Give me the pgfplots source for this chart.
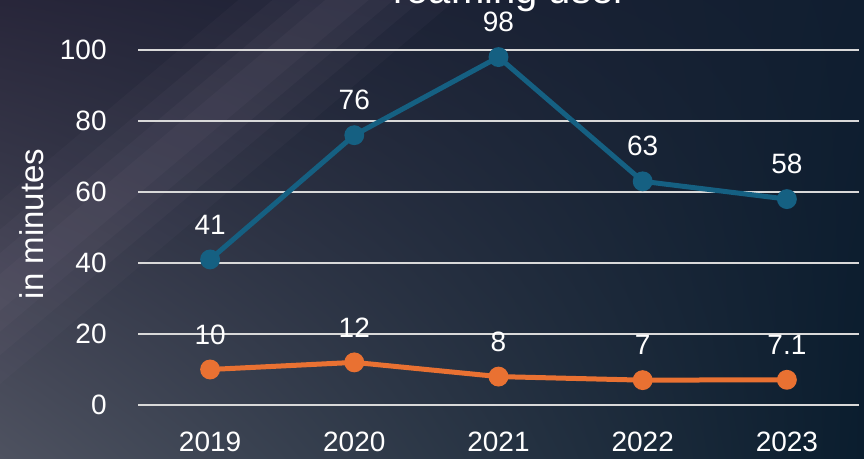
\documentclass[border=0pt]{standalone}
\usepackage{pgfplots}
\pgfplotsset{compat=1.18}
\usetikzlibrary{shadings}
\usepackage{fontspec}
\setmainfont{Liberation Sans}
\definecolor{serA}{HTML}{156082}
\definecolor{serB}{HTML}{E97132}
\definecolor{gridc}{HTML}{D9D9D9}
\definecolor{bgUL}{RGB}{40,38,58}
\definecolor{bgUR}{RGB}{16,30,48}
\definecolor{bgLL}{RGB}{78,82,96}
\definecolor{bgLR}{RGB}{10,29,46}
\definecolor{band}{RGB}{130,118,140}
\begin{document}
\begin{tikzpicture}
\useasboundingbox (0pt,0pt) rectangle (432pt,229.5pt);
\clip (0pt,0pt) rectangle (432pt,229.5pt);
\shade[upper left=bgUL, upper right=bgUR, lower left=bgLL, lower right=bgLR]
  (0pt,0pt) rectangle (432pt,229.5pt);
\foreach \w/\o in {70/0.06,48/0.07,30/0.08,14/0.08}{
  \draw[line width=\w pt, color=band, opacity=\o, line cap=round]
    (203.5pt,254.8pt) -- (-34.5pt,54.2pt);
}
\node[anchor=base, text=white, font=\fontsize{20}{24}\selectfont, inner sep=0pt] at (255pt,227.5pt) {roaming user};
\begin{axis}[
  at={(69pt,27pt)}, anchor=south west,
  scale only axis, width=360.5pt, height=177.5pt,
  xmin=-0.5, xmax=4.5, ymin=0, ymax=100,
  xtick={0,1,2,3,4}, xticklabels={2019,2020,2021,2022,2023},
  ytick={0,20,40,60,80,100},
  axis line style={draw=none},
  tick style={draw=none},
  ymajorgrids, grid style={gridc, line width=0.8pt},
  clip=false,
  /pgf/number format/assume math mode=true,
  ticklabel style={text=white, font=\fontsize{14}{16}\selectfont},
  yticklabel style={anchor=east, inner sep=0pt, xshift=-15.5pt},
  xticklabel style={anchor=base, inner sep=0pt, yshift=-23.5pt},
  ylabel={in minutes},
  ylabel style={at={(axis description cs:-0.147,0.51)}, anchor=center, rotate=0, text=white, font=\fontsize{16.5}{19}\selectfont},
  nodes near coords,
  point meta=explicit symbolic,
  every node near coord/.append style={anchor=center, yshift=17.5pt, text=white, font=\fontsize{14}{16}\selectfont, inner sep=0pt},
]
\addplot[serA, line width=2.5pt, mark=*, mark size=3.7pt, mark options={solid, fill=serA, draw=serA}]
  coordinates {(0,41)[41] (1,76)[76] (2,98)[98] (3,63)[63] (4,58)[58]};
\addplot[serB, line width=2.5pt, mark=*, mark size=3.7pt, mark options={solid, fill=serB, draw=serB}]
  coordinates {(0,10)[10] (1,12)[12] (2,8)[8] (3,7)[7] (4,7.1)[7.1]};
\end{axis}
\end{tikzpicture}
\end{document}
